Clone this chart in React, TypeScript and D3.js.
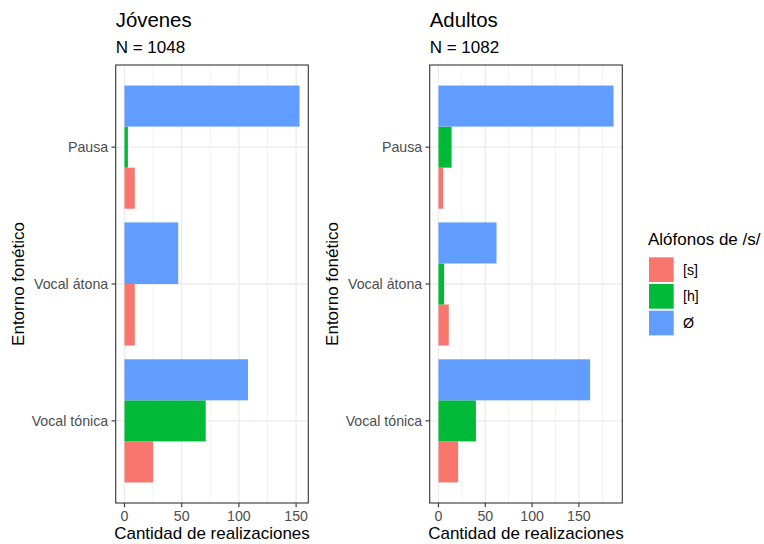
import React from "react";
import * as d3 from "d3";

const categories = ["Vocal tónica", "Vocal átona", "Pausa"];
const groups = ["[s]", "[h]", "Ø"];
const colors = ["#F8766D", "#00BA38", "#619CFF"];

// values per category (order of categories) for each allophone; null = absent
const jovenesS = [25, 9, 9];
const jovenesH = [71, null, 3];
const jovenesO = [108, 47, 153];

const adultosS = [21, 11, 5];
const adultosH = [40, 6, 14];
const adultosO = [162, 62, 187];

const xTicks = [0, 50, 100, 150];
const panels = [
  { title: "Jóvenes", subtitle: "N = 1048", s: jovenesS, h: jovenesH, o: jovenesO, minor: [25, 75, 125] },
  { title: "Adultos", subtitle: "N = 1082", s: adultosS, h: adultosH, o: adultosO, minor: [25, 75, 125, 175] },
];

const FONT = "'Liberation Sans', Arial, Helvetica, sans-serif";
const panelLefts = [115.7, 429.7];
const panelW = 192.6;
const top = 65;
const bottom = 503;

function Panel({ p, left }: { p: any; left: number }) {
  const vals = [p.s, p.h, p.o];
  const max = d3.max(vals.flat().filter((v: any) => v != null) as number[]) as number;
  const x = d3.scaleLinear().domain([-0.05 * max, 1.05 * max]).range([left, left + panelW]);
  const y = d3.scaleLinear().domain([0.4, 3.6]).range([bottom, top]);
  const rects: any[] = [];
  categories.forEach((c, ci) => {
    const present = groups.map((g, gi) => ({ gi, v: vals[gi][ci] })).filter((d) => d.v != null);
    const n = present.length;
    const bw = 0.9 / n;
    present.forEach((d, k) => {
      const y0 = ci + 1 - 0.45 + k * bw;
      const y1 = y0 + bw;
      rects.push(
        <rect
          key={`${ci}-${d.gi}`}
          x={x(0)}
          y={y(y1)}
          width={x(d.v) - x(0)}
          height={y(y0) - y(y1)}
          fill={colors[d.gi]}
        />
      );
    });
  });
  const xmid = left + panelW / 2;
  return (
    <g>
      <text x={left} y={26.7} fontSize={20.4} fontFamily={FONT} fill="#000">{p.title}</text>
      <text x={left} y={52.7} fontSize={17} fontFamily={FONT} fill="#000">{p.subtitle}</text>
      <rect x={left} y={top} width={panelW} height={bottom - top} fill="#fff" />
      {p.minor.map((t: number) => (
        <line key={"m" + t} x1={x(t)} x2={x(t)} y1={top} y2={bottom} stroke="#F0F0F0" strokeWidth={0.9} />
      ))}
      {xTicks.map((t) => (
        <line key={"M" + t} x1={x(t)} x2={x(t)} y1={top} y2={bottom} stroke="#EBEBEB" strokeWidth={1.3} />
      ))}
      {categories.map((c, i) => (
        <line key={"h" + c} x1={left} x2={left + panelW} y1={y(i + 1)} y2={y(i + 1)} stroke="#EBEBEB" strokeWidth={1.3} />
      ))}
      {rects}
      <rect x={left} y={top} width={panelW} height={bottom - top} fill="none" stroke="#333333" strokeWidth={1.1} />
      {categories.map((c, i) => (
        <g key={"yl" + c}>
          <line x1={left - 4.2} x2={left} y1={y(i + 1)} y2={y(i + 1)} stroke="#333333" strokeWidth={1.1} />
          <text x={left - 7.5} y={y(i + 1)} dy="0.35em" textAnchor="end" fontSize={14.2} fontFamily={FONT} fill="#4D4D4D">{c}</text>
        </g>
      ))}
      {xTicks.map((t) => (
        <g key={"xl" + t}>
          <line x1={x(t)} x2={x(t)} y1={bottom} y2={bottom + 4.2} stroke="#333333" strokeWidth={1.1} />
          <text x={x(t)} y={521} textAnchor="middle" fontSize={14.2} fontFamily={FONT} fill="#4D4D4D">{t}</text>
        </g>
      ))}
      <text x={xmid} y={539} textAnchor="middle" fontSize={17} fontFamily={FONT} fill="#000">Cantidad de realizaciones</text>
      <text
        transform={`translate(${left - 91.5},${(top + bottom) / 2}) rotate(-90)`}
        textAnchor="middle"
        fontSize={17}
        fontFamily={FONT}
        fill="#000"
      >Entorno fonético</text>
    </g>
  );
}

export default function App() {
  const slot = 26.7;
  const ly0 = 256.3;
  return (
    <svg width={764} height={544} style={{ position: "absolute", left: 0, top: 0, background: "#fff" }}>
      <rect width={764} height={544} fill="#fff" />
      {panels.map((p, i) => (
        <Panel key={p.title} p={p} left={panelLefts[i]} />
      ))}
      <text x={648} y={245} fontSize={17} fontFamily={FONT} fill="#000">Alófonos de /s/</text>
      {groups.map((g, i) => (
        <g key={g}>
          <rect x={649} y={ly0 + i * slot + 1} width={slot - 2} height={slot - 2} fill={colors[i]} />
          <text x={683} y={ly0 + i * slot + slot / 2} dy="0.35em" fontSize={14.2} fontFamily={FONT} fill="#000">{g}</text>
        </g>
      ))}
    </svg>
  );
}
